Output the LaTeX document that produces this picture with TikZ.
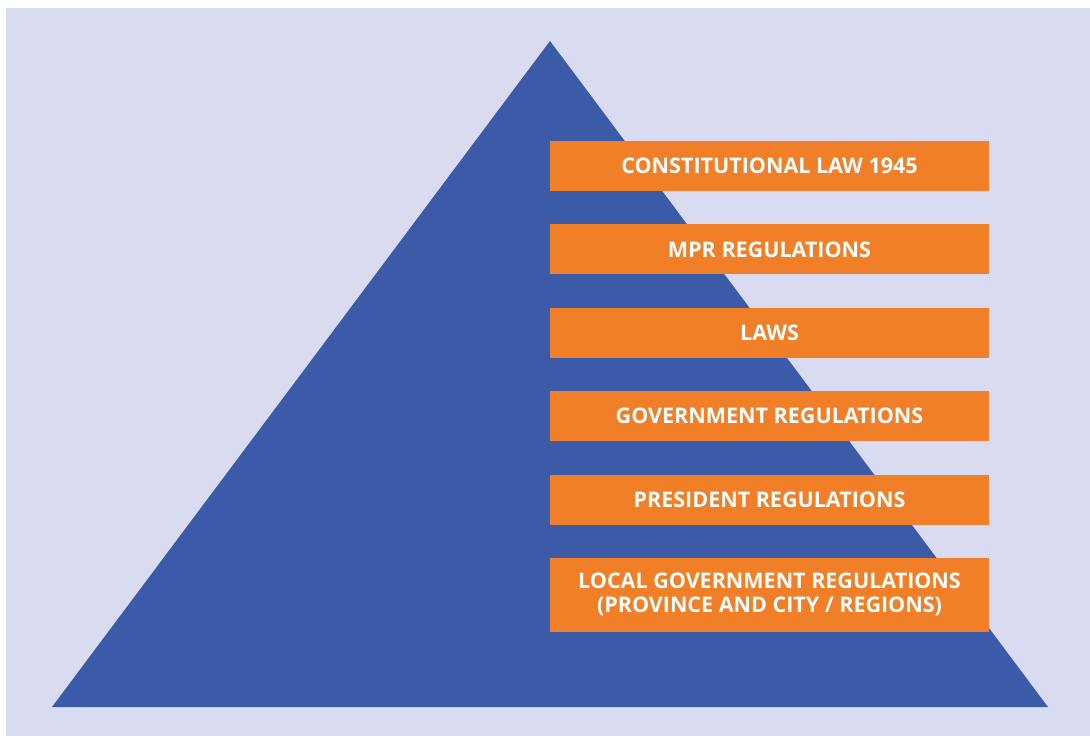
\documentclass[tikz,border=0pt]{standalone}
\usepackage{fontspec}
\setmainfont{Open Sans}
\usetikzlibrary{positioning}

\definecolor{bgpurple}{HTML}{D9DBF0}
\definecolor{pyrblue}{HTML}{3B5BA9}
\definecolor{lvlorange}{HTML}{F07F27}

\begin{document}
\begin{tikzpicture}[x=1pt,y=-1pt,node distance=83.4pt,on grid,
  level/.style={fill=lvlorange,text=white,minimum width=439pt,minimum height=50pt,
    inner sep=0pt,align=center,font=\fontsize{21.5}{23.5}\selectfont\bfseries}]
  \useasboundingbox (0,0) rectangle (1090,736);
  \fill[bgpurple] (6,8) rectangle (1090,736);
  % pyramid
  \coordinate (top) at (550,41);
  \coordinate (bl) at (52,707);
  \coordinate (br) at (1048,707);
  \fill[pyrblue] (top) -- (br) -- (bl) -- cycle;
  % levels
  \node[level] (uud) at (769.5,166) {CONSTITUTIONAL LAW 1945};
  \node[level] (mpr) [below=of uud] {MPR REGULATIONS};
  \node[level] (laws) [below=of mpr] {LAWS};
  \node[level] (gov) [below=of laws] {GOVERNMENT REGULATIONS};
  \node[level] (pres) [below=of gov] {PRESIDENT REGULATIONS};
  \node[level,minimum height=74pt] (local) [below=95pt of pres]
    {LOCAL GOVERNMENT REGULATIONS\\(PROVINCE AND CITY / REGIONS)};
\end{tikzpicture}
\end{document}
